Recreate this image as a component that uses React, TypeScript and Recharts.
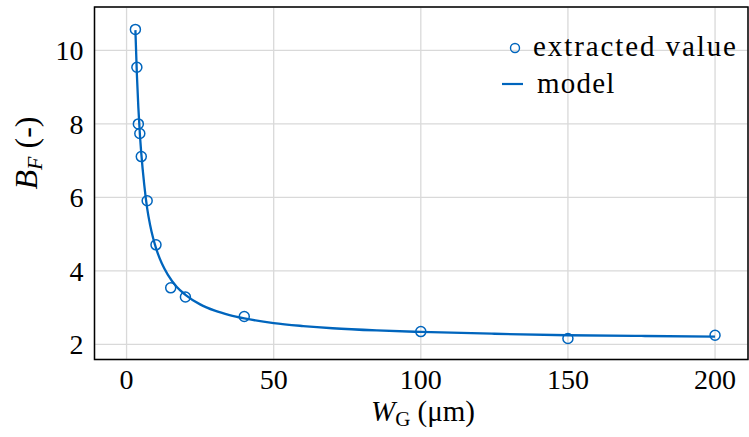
import {
  ComposedChart,
  Line,
  Scatter,
  XAxis,
  YAxis,
  CartesianGrid,
  ReferenceArea,
} from "recharts";

// measured points (gate width in µm, B_F)
const extractedW = [3, 3.5, 4, 4.5, 5, 7, 10, 15, 20, 40, 100, 150, 200];
const extractedB = [10.57, 9.54, 8.0, 7.74, 7.11, 5.91, 4.71, 3.54, 3.29, 2.76, 2.35, 2.16, 2.25];

// model curve
const modelW = [3, 3.5, 4, 4.5, 5, 6, 7, 8, 9, 10, 12, 14, 17, 20, 25, 30, 35, 40, 50, 60, 70, 85, 100, 125, 150, 175, 200];
const modelB = [10.55, 9.35, 8.45, 7.75, 7.2, 6.35, 5.7, 5.25, 4.9, 4.62, 4.2, 3.9, 3.57, 3.35, 3.09, 2.92, 2.8, 2.71, 2.58, 2.5, 2.44, 2.38, 2.34, 2.29, 2.25, 2.23, 2.21];

const xTicks = [0, 50, 100, 150, 200];
const yTicks = [2, 4, 6, 8, 10];

const X_DOMAIN: [number, number] = [-10.9, 211.2];
const Y_DOMAIN: [number, number] = [1.59, 11.18];

const BLUE = "#0065bd";
const FONT = "Liberation Serif, DejaVu Serif, serif";

const extracted = extractedW.map((w, i) => ({ w, b: extractedB[i] }));
const model = modelW.map((w, i) => ({ w, b: modelB[i] }));

const Marker = (props: any) => (
  <circle cx={props.cx} cy={props.cy} r={5} fill="none" stroke={BLUE} strokeWidth={1.5} />
);

const LegendBox = () => (
  <div style={{ position: "absolute", left: 495, top: 28, width: 254, height: 80, fontFamily: FONT, fontSize: 29, color: "#000" }}>
    <svg width={40} height={80} style={{ position: "absolute", left: 0, top: 0 }}>
      <circle cx={20} cy={20} r={4.5} fill="none" stroke={BLUE} strokeWidth={1.4} />
      <line x1={7} x2={28} y1={56} y2={56} stroke={BLUE} strokeWidth={2.2} />
    </svg>
    <div style={{ position: "absolute", left: 38, top: 0, lineHeight: "37px", letterSpacing: 1.9, whiteSpace: "nowrap" }}>
      extracted value
    </div>
    <div style={{ position: "absolute", left: 42, top: 37, lineHeight: "37px", letterSpacing: 1.2, whiteSpace: "nowrap" }}>
      model
    </div>
  </div>
);

export default function App() {
  return (
    <div style={{ position: "absolute", left: 0, top: 0, width: 749, height: 437, background: "#fff" }}>
      <ComposedChart width={749} height={437} margin={{ top: 7, right: 1, bottom: 0, left: 0 }}>
        <CartesianGrid stroke="#d9d9d9" strokeWidth={1.3} />
        <XAxis
          type="number"
          dataKey="w"
          domain={X_DOMAIN}
          ticks={xTicks}
          allowDataOverflow
          height={77.5}
          axisLine={false}
          tickLine={false}
          tickSize={0}
          tickMargin={10}
          tick={{ fontFamily: FONT, fontSize: 28, fill: "#000" }}
          label={{
            content: () => (
              <text x={423} y={421} textAnchor="middle" fontFamily={FONT} fontSize={29} fill="#000">
                <tspan fontStyle="italic">W</tspan>
                <tspan fontSize={21} dy={5}>G</tspan>
                <tspan dy={-5}> (μm)</tspan>
              </text>
            ),
          }}
        />
        <YAxis
          type="number"
          dataKey="b"
          domain={Y_DOMAIN}
          ticks={yTicks}
          allowDataOverflow
          width={94.5}
          axisLine={false}
          tickLine={false}
          tickSize={0}
          tickMargin={11}
          tick={{ fontFamily: FONT, fontSize: 28, fill: "#000" }}
          label={{
            content: () => (
              <text transform="translate(37,153) rotate(-90)" textAnchor="middle" fontFamily={FONT} fontSize={32} fill="#000">
                <tspan fontStyle="italic">B</tspan>
                <tspan fontStyle="italic" fontSize={22} dy={5}>F</tspan>
                <tspan dy={-5}> (-)</tspan>
              </text>
            ),
          }}
        />
        <ReferenceArea
          x1={X_DOMAIN[0]}
          x2={X_DOMAIN[1]}
          y1={Y_DOMAIN[0]}
          y2={Y_DOMAIN[1]}
          fill="none"
          stroke="#000"
          strokeWidth={1.5}
          ifOverflow="visible"
        />
        <Scatter data={extracted} dataKey="b" shape={Marker} isAnimationActive={false} />
        <Line
          data={model}
          dataKey="b"
          type="monotone"
          stroke={BLUE}
          strokeWidth={2.3}
          dot={false}
          activeDot={false}
          isAnimationActive={false}
        />
      </ComposedChart>
      <LegendBox />
    </div>
  );
}
